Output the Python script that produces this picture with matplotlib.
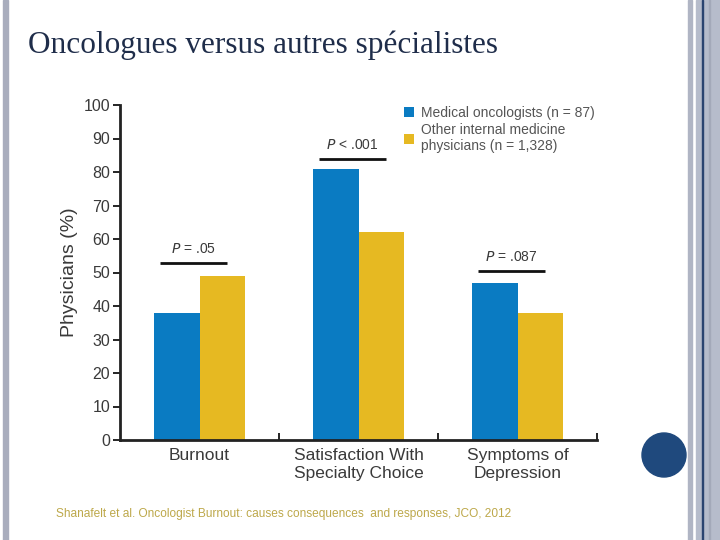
import matplotlib
matplotlib.use("Agg")
import matplotlib.pyplot as plt
from matplotlib.patches import Rectangle, Circle
import numpy as np

# data
categories = ["Burnout", "Satisfaction With\nSpecialty Choice", "Symptoms of\nDepression"]
oncologists = [38, 81, 47]
other_internists = [49, 62, 38]
p_labels = ["= .05", "< .001", "= .087"]
p_heights = [52.8, 83.9, 50.4]
series_names = ["Medical oncologists (n = 87)",
                "Other internal medicine\nphysicians (n = 1,328)"]

blue = "#0a7bc2"
gold = "#e6b922"
text_col = "#3a3a3a"

fig = plt.figure(figsize=(7.2, 5.4), dpi=100)
fig.patch.set_facecolor("white")

# slide decoration: borders and dot
fig.patches.append(Rectangle((3 / 720, 0), 5 / 720, 1, transform=fig.transFigure,
                             color="#a9adbd", zorder=0))
fig.patches.append(Rectangle((688 / 720, 0), 4 / 720, 1, transform=fig.transFigure,
                             color="#b0b5c4", zorder=0))
fig.patches.append(Rectangle((696 / 720, 0), 24 / 720, 1, transform=fig.transFigure,
                             color="#b6bccb", zorder=0))
fig.patches.append(Rectangle((701.5 / 720, 0), 1.2 / 720, 1, transform=fig.transFigure,
                             color="#2a4470", zorder=1))
fig.patches.append(Rectangle((709 / 720, 0), 1.2 / 720, 1, transform=fig.transFigure,
                             color="#a3a9b9", zorder=1))

# round dot, drawn in a small square axes so it stays circular
cax = fig.add_axes([636 / 720, 1 - 483 / 540, 56 / 720, 56 / 540])
cax.add_patch(Circle((0.5, 0.5), 22 / 56, color="#1f497d"))
cax.set_xlim(0, 1)
cax.set_ylim(0, 1)
cax.axis("off")

fig.text(28 / 720, 1 - 45 / 540, "Oncologues versus autres spécialistes",
         family="Liberation Serif", fontsize=22.5, color="#1f2d4a", va="center", ha="left")
fig.text(56 / 720, 1 - 514 / 540,
         "Shanafelt et al. Oncologist Burnout: causes consequences  and responses, JCO, 2012",
         family="Liberation Sans", fontsize=8.6, color="#bda84a", va="center", ha="left")

ax = fig.add_axes([120 / 720, 1 - 440 / 540, 477 / 720, 335 / 540])
x = np.arange(len(categories))
w = 0.287
ax.bar(x - w / 2, oncologists, w, color=blue, label=series_names[0])
ax.bar(x + w / 2, other_internists, w, color=gold, label=series_names[1])

for xi, lab, h in zip(x, p_labels, p_heights):
    ax.plot([xi - 0.25, xi + 0.17], [h, h], color="#111111", lw=2, solid_capstyle="butt")
    ax.text(xi - 0.04, h + 2.2, "$P$ " + lab, ha="center", va="bottom",
            fontsize=10, color=text_col, family="Liberation Sans")

ax.set_xlim(-0.5, 2.5)
ax.set_ylim(0, 100)
ax.set_yticks(range(0, 101, 10))
ax.set_xticks(x)
ax.set_xticklabels(categories, fontsize=12.5, color=text_col, family="Liberation Sans",
                   linespacing=1.25)
ax.tick_params(axis="x", length=0, pad=6)
ax.set_xticks([0.5, 1.5, 2.5], minor=True)
ax.tick_params(axis="x", which="minor", direction="in", length=5, width=1.2)
ax.tick_params(axis="y", length=5, width=1.2, labelsize=11.5, labelcolor=text_col, pad=2)
for t in ax.get_yticklabels():
    t.set_family("Liberation Sans")
ax.set_ylabel("Physicians (%)", fontsize=14, color=text_col, family="Liberation Sans",
              labelpad=4)

for s in ["top", "right"]:
    ax.spines[s].set_visible(False)
for s in ["left", "bottom"]:
    ax.spines[s].set_linewidth(2)
    ax.spines[s].set_color("#222222")

leg = ax.legend(loc="upper left", bbox_to_anchor=(0.57, 1.035), frameon=False,
                handlelength=0.7, handleheight=0.7, handletextpad=0.5,
                labelspacing=0.25, prop={"family": "Liberation Sans", "size": 10})
for t in leg.get_texts():
    t.set_color("#555555")

fig.savefig("out.png", dpi=100, facecolor="white")
